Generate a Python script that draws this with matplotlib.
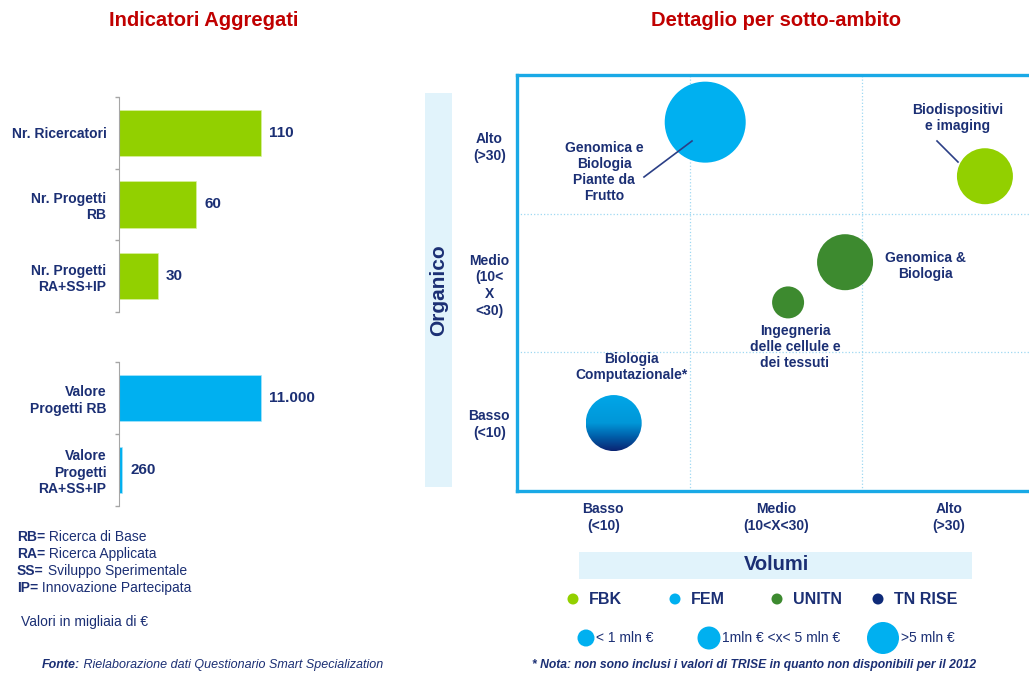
import numpy as np
import matplotlib
matplotlib.use("Agg")
import matplotlib.pyplot as plt
from matplotlib.patches import Ellipse, Rectangle
from matplotlib.colors import LinearSegmentedColormap

plt.rcParams["font.family"] = ["Liberation Sans", "DejaVu Sans"]

# --- Indicatori aggregati ---
indicatori_num = ["Nr. Ricercatori", "Nr. Progetti\nRB", "Nr. Progetti\nRA+SS+IP"]
valori_num = [110, 60, 30]
indicatori_val = ["Valore\nProgetti RB", "Valore\nProgetti\nRA+SS+IP"]
valori_euro = [11000, 260]  # migliaia di €

# --- Dettaglio per sotto-ambito (0-3: Basso / Medio / Alto) ---
sotto_ambiti = ["Genomica e\nBiologia\nPiante da\nFrutto", "Biodispositivi\ne imaging",
                "Genomica &\nBiologia", "Ingegneria\ndelle cellule e\ndei tessuti",
                "Biologia\nComputazionale*"]
volumi = [1.09, 2.71, 1.90, 1.57, 0.56]
organico = [2.66, 2.27, 1.65, 1.36, 0.49]
ente = ["FEM", "FBK", "UNITN", "UNITN", "FEM+TN RISE"]
classe = [">5 mln €", "1mln € <x< 5 mln €", "1mln € <x< 5 mln €", "< 1 mln €", "1mln € <x< 5 mln €"]

livelli_x = ["Basso\n(<10)", "Medio\n(10<X<30)", "Alto\n(>30)"]
livelli_y = ["Basso\n(<10)", "Medio\n(10<\nX\n<30)", "Alto\n(>30)"]
enti = ["FBK", "FEM", "UNITN", "TN RISE"]
classi = ["< 1 mln €", "1mln € <x< 5 mln €", ">5 mln €"]
sigle = [("RB=", "Ricerca di Base"), ("RA=", "Ricerca Applicata"),
         ("SS=", "Sviluppo Sperimentale"), ("IP=", "Innovazione Partecipata")]

# stile
NAVY = "#1B2F74"
RED = "#C00000"
GREEN = "#92D000"
CYAN = "#00B0F0"
COLORI = {"FBK": "#92D000", "FEM": "#00B0F0", "UNITN": "#3D8A2F", "TN RISE": "#0E2A78"}
DIAM = {"< 1 mln €": 32, "1mln € <x< 5 mln €": 56, ">5 mln €": 81}  # pixel
W, H = 1029, 675


def fx(x):
    return x / W


def fy(y):
    return 1 - y / H


fig = plt.figure(figsize=(W / 100, H / 100), dpi=100)

# overlay in pixel per testi e decorazioni
deco = fig.add_axes([0, 0, 1, 1], zorder=0)
deco.set_xlim(0, W)
deco.set_ylim(H, 0)
deco.axis("off")

deco.text(204, 20, "Indicatori Aggregati", color=RED, fontsize=14.5, fontweight="bold",
          ha="center", va="center")
deco.text(776, 20, "Dettaglio per sotto-ambito", color=RED, fontsize=14.5, fontweight="bold",
          ha="center", va="center")


def bar_panel(top, bottom, labels, values, color, xmax, fmt):
    n = len(values)
    ax = fig.add_axes([fx(119), fy(bottom), (284) / W, (bottom - top) / H], zorder=2)
    pos = np.arange(n)
    bars = ax.barh(pos, values, height=0.65, color=color, edgecolor="#d8f0a0" if color == GREEN else "#a8e4fa",
                   linewidth=0.5)
    ax.set_xlim(0, xmax)
    ax.set_ylim(n - 0.5, -0.5)
    ax.set_yticks(pos, labels, color=NAVY, fontsize=10, fontweight="bold")
    ax.set_yticks(np.arange(n + 1) - 0.5, minor=True)
    ax.tick_params(axis="y", which="major", length=0, pad=9)
    ax.tick_params(axis="y", which="minor", length=3, color="#a6a6a6", width=1)
    ax.set_xticks([])
    for s in ["top", "right", "bottom"]:
        ax.spines[s].set_visible(False)
    ax.spines["left"].set_color("#a6a6a6")
    ax.bar_label(bars, labels=[fmt(v) for v in values], padding=6, color=NAVY,
                 fontsize=11, fontweight="bold")
    ax.patch.set_alpha(0)
    return ax


bar_panel(97, 312, indicatori_num, valori_num, GREEN, 220, lambda v: f"{v}")
bar_panel(362, 506, indicatori_val, valori_euro, CYAN, 22000,
          lambda v: f"{v:,}".replace(",", "."))

for i, (sig, txt) in enumerate(sigle):
    y = 537 + i * 17
    t = deco.text(17, y, sig, color=NAVY, fontsize=10, fontweight="bold", va="center")
    deco.annotate(" " + txt, xy=(1, 0.5), xycoords=t, va="center", ha="left",
                  color=NAVY, fontsize=10)
deco.text(21, 622, "Valori in migliaia di €", color=NAVY, fontsize=10, va="center")
t = deco.text(42, 665, "Fonte:", color=NAVY, fontsize=9, fontweight="bold", style="italic",
              va="center")
deco.annotate(" Rielaborazione dati Questionario Smart Specialization", xy=(1, 0.5),
              xycoords=t, va="center", ha="left", color=NAVY, fontsize=9, style="italic")

# --- matrice ---
left, top, right, bottom = 517, 75, 1035, 491
ax = fig.add_axes([fx(left), fy(bottom), (right - left) / W, (bottom - top) / H], zorder=2)
ax.set_xlim(0, 3)
ax.set_ylim(0, 3)
sx = (right - left) / 3
sy = (bottom - top) / 3
for s in ax.spines.values():
    s.set_color("#19A9E6")
    s.set_linewidth(2.4)
for v in [1, 2]:
    ax.axvline(v, color="#9ED8F2", lw=0.9, ls=":", zorder=0)
    ax.axhline(v, color="#9ED8F2", lw=0.9, ls=":", zorder=0)
ax.set_xticks([0.5, 1.5, 2.5], livelli_x, color=NAVY, fontsize=10, fontweight="bold",
              linespacing=1.25)
ax.set_yticks([0.5, 1.5, 2.5], livelli_y, color=NAVY, fontsize=10, fontweight="bold",
              linespacing=1.25)
for lab in ax.get_yticklabels():
    lab.set_horizontalalignment("center")
ax.tick_params(length=0)
ax.tick_params(axis="x", pad=8)
ax.tick_params(axis="y", pad=20)

grad = LinearSegmentedColormap.from_list(
    "g", [(0, "#00A6E8"), (0.5, "#0097D8"), (0.72, "#0064AE"), (1, "#0B2472")])
for nome, xv, yv, en, cl in zip(sotto_ambiti, volumi, organico, ente, classe):
    d = DIAM[cl]
    w, h = d / sx, d / sy
    if en in COLORI:
        ax.add_patch(Ellipse((xv, yv), w, h, facecolor=COLORI[en], edgecolor="none", zorder=3))
    else:
        e = Ellipse((xv, yv), w, h, facecolor="none", edgecolor="none", zorder=3)
        ax.add_patch(e)
        im = ax.imshow(np.linspace(0, 1, 256).reshape(-1, 1), cmap=grad, aspect="auto",
                       extent=[xv - w / 2, xv + w / 2, yv - h / 2, yv + h / 2],
                       origin="upper", zorder=3)
        im.set_clip_path(e)
ax.set_xlim(0, 3)
ax.set_ylim(0, 3)

# etichette delle bolle (pixel -> dati)
def px(x, y):
    return (x - left) / sx, (bottom - y) / sy


label_pos = [(604, 172), (958, 118), (925, 266), (795, 347), (631, 367)]
for nome, (lx, ly) in zip(sotto_ambiti, label_pos):
    ax.text(*px(lx, ly), nome, color=NAVY, fontsize=10, fontweight="bold", ha="center",
            va="center", linespacing=1.2, zorder=4)
leaders = [((644, 177), (692, 141)), ((937, 141), (958, 162))]
for a, b in leaders:
    p0, p1 = px(*a), px(*b)
    ax.plot([p0[0], p1[0]], [p0[1], p1[1]], color="#2B3F86", lw=1.2, zorder=5)

# Organico
deco.add_patch(Rectangle((425, 93), 27, 394, facecolor="#E1F3FB", edgecolor="none"))
deco.text(439, 290, "Organico", rotation=90, color=NAVY, fontsize=15, fontweight="bold",
          ha="center", va="center")

# legenda Volumi
deco.add_patch(Rectangle((579, 552), 393, 27, facecolor="#E1F3FB", edgecolor="none"))
deco.text(776, 565, "Volumi", color=NAVY, fontsize=14.5, fontweight="bold",
          ha="center", va="center")
ent_x = [573, 675, 777, 878]
for en, x0 in zip(enti, ent_x):
    deco.add_patch(Ellipse((x0, 599), 11, 11, facecolor=COLORI[en], edgecolor="none"))
    deco.text(x0 + 16, 599, en, color=NAVY, fontsize=11.5, fontweight="bold", va="center")
cl_x = [586, 709, 883]
cl_d = [17, 23, 32]
for cl, x0, d in zip(classi, cl_x, cl_d):
    deco.add_patch(Ellipse((x0, 638), d, d, facecolor=CYAN, edgecolor="none"))
    deco.text(x0 + d / 2 + 2, 638, cl, color=NAVY, fontsize=10, va="center")
deco.text(532, 665, "* Nota: non sono inclusi i valori di TRISE in quanto non disponibili per il 2012",
          color=NAVY, fontsize=8.7, fontweight="bold", style="italic", va="center")

fig.savefig("out.png", dpi=100)
